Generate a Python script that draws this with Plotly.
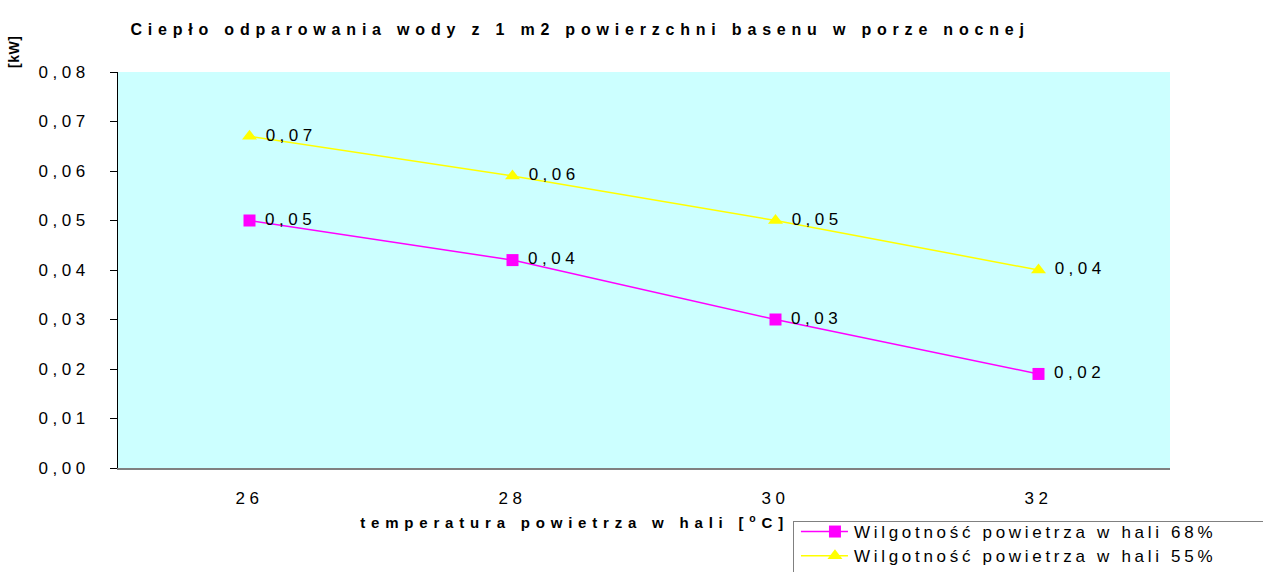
import plotly.graph_objects as go

temps = [26, 28, 30, 32]
vals_68 = [0.050, 0.042, 0.030, 0.019]
vals_55 = [0.067, 0.059, 0.050, 0.040]
names = ["Wilgotność powietrza w hali 68%", "Wilgotność powietrza w hali 55%"]
title_text = "Ciepło odparowania wody z 1 m2 powierzchni basenu w porze nocnej"
xtitle_text = "temperatura powietrza w hali [<sup>o</sup>C]"
ytitle_text = "[kW]"

FONT = "Liberation Sans, Arial, sans-serif"

fig = go.Figure()
fig.add_trace(go.Scatter(
    x=temps, y=vals_68, name=names[0], mode="lines+markers+text",
    line=dict(color="#FF00FF", width=1.5),
    marker=dict(symbol="square", size=12, color="#FF00FF"),
    texttemplate="%{y:.2f}", textposition="middle right",
    textfont=dict(family=FONT, size=17, color="black"),
))
fig.add_trace(go.Scatter(
    x=temps, y=vals_55, name=names[1], mode="lines+markers+text",
    line=dict(color="#FFFF00", width=1.5),
    marker=dict(symbol="triangle-up", size=13, color="#FFFF00"),
    texttemplate="%{y:.2f}", textposition="middle right",
    textfont=dict(family=FONT, size=17, color="black"),
))

fig.update_layout(
    width=1263, height=572,
    margin=dict(l=118, r=93, t=72, b=104, autoexpand=False),
    paper_bgcolor="white", plot_bgcolor="#CCFFFF",
    separators=", ",
    font=dict(family=FONT, size=17, color="black"),
    showlegend=True,
    legend=dict(
        x=0.6416, y=-0.1338, xanchor="left", yanchor="top",
        bordercolor="#808080", borderwidth=1, bgcolor="white",
        font=dict(family=FONT, size=17, color="black"),
        tracegroupgap=0, itemwidth=50,
    ),
    xaxis=dict(
        range=[25, 33], tickvals=temps, ticktext=[str(t) for t in temps],
        showgrid=False, zeroline=False, showline=True, linecolor="#808080", linewidth=2,
        ticks="outside", ticklen=14, tickcolor="rgba(0,0,0,0)",
        tickfont=dict(family=FONT, size=17, color="black"),
    ),
    yaxis=dict(
        range=[0, 0.08], dtick=0.01, tickformat=".2f",
        showgrid=False, zeroline=False, showline=True, linecolor="black", linewidth=1,
        ticks="outside", ticklen=7, tickcolor="black", ticklabelstandoff=17,
        tickfont=dict(family=FONT, size=17, color="black"),
    ),
    annotations=[
        dict(text="<b>" + title_text + "</b>", xref="paper", yref="paper",
             x=0.439, y=1.108, xanchor="center", yanchor="middle", showarrow=False,
             font=dict(family=FONT, size=16, color="black")),
        dict(text="<b>" + xtitle_text + "</b>", xref="paper", yref="paper",
             x=0.4344, y=-0.134, xanchor="center", yanchor="middle", showarrow=False,
             font=dict(family=FONT, size=15, color="black")),
        dict(text="<b>" + ytitle_text + "</b>", xref="paper", yref="paper",
             x=-0.0989, y=1.0505, xanchor="center", yanchor="middle", showarrow=False,
             textangle=-90, font=dict(family=FONT, size=14, color="black")),
    ],
)

post = """
document.body.style.margin = '0';
document.documentElement.style.overflow = 'hidden';
var gd = document.getElementById('{plot_id}');
function ls(sel, v){ gd.querySelectorAll(sel).forEach(function(t){ t.style.letterSpacing = v; }); }
ls('.ytick text', '4.5px');
ls('.xtick text', '4.5px');
ls('.textpoint text', '4.5px');
ls('.legendtext', '3.7px');
gd.querySelectorAll('.textpoint text').forEach(function(t){ t.setAttribute('dx', '7'); });
gd.querySelectorAll('.annotation-text').forEach(function(t){
  var s = t.textContent;
  if (s.indexOf('Ciep') === 0) t.style.letterSpacing = '5.8px';
  else if (s.indexOf('temp') === 0) t.style.letterSpacing = '5.8px';
  else t.style.letterSpacing = '0.5px';
});
gd.querySelectorAll('.legend .scrollbox').forEach(function(e){ e.removeAttribute('clip-path'); });
gd.querySelectorAll('.legend rect.bg').forEach(function(e){ e.setAttribute('width', '600'); });
gd.querySelectorAll('.legend .legendlines path').forEach(function(e){ e.setAttribute('d', 'M7,0h47'); });
gd.querySelectorAll('.legend .legendpoints path').forEach(function(e){
  var tr = e.getAttribute('transform') || '';
  e.setAttribute('transform', tr.replace(/translate\\(([-\\d.]+)/, function(m, a){ return 'translate(' + (parseFloat(a) + 11); }));
});
gd.querySelectorAll('.legend .traces').forEach(function(e, i){
  var tr = e.getAttribute('transform') || '';
  e.setAttribute('transform', tr.replace(/translate\\(([-\\d.]+)[ ,]+([-\\d.]+)\\)/, function(m, a, b){ return 'translate(' + a + ',' + (parseFloat(b) - 8 - i) + ')'; }));
});
"""

fig.write_html("out.html", post_script=post, config={"displayModeBar": False})
